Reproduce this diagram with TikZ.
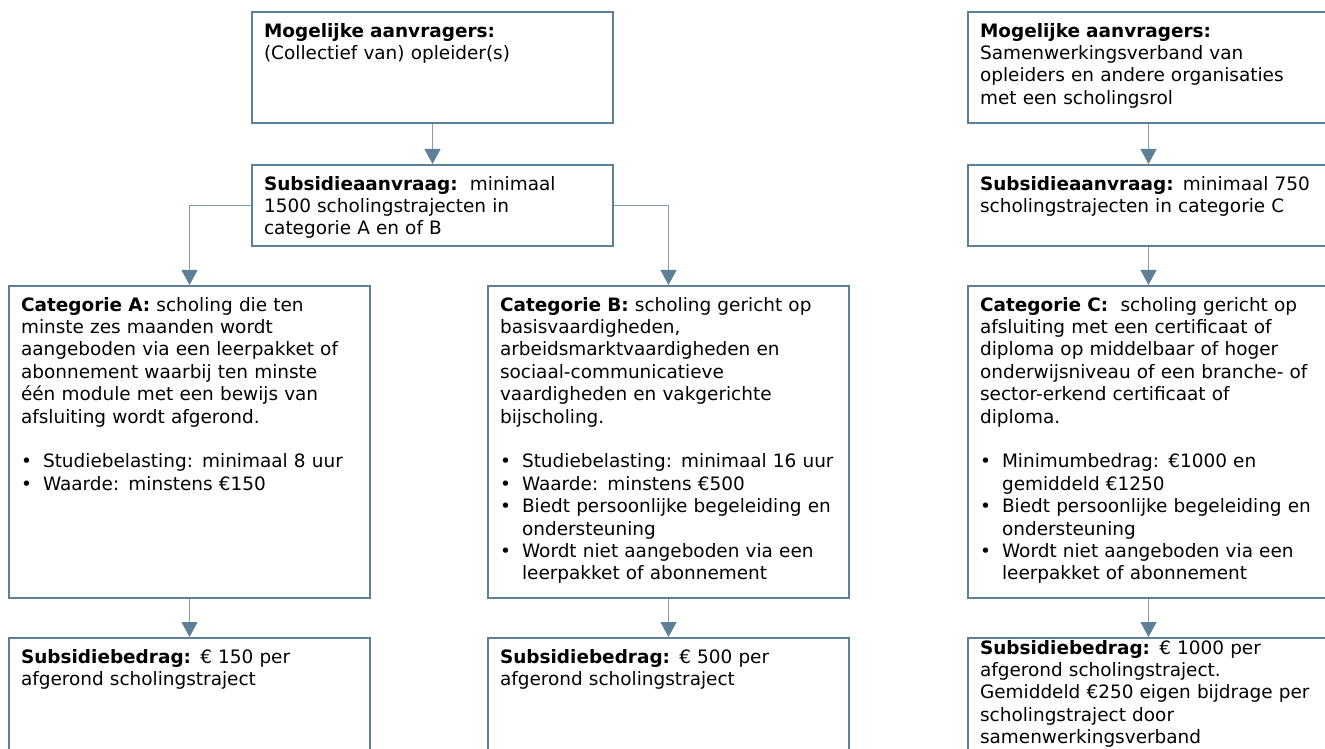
\documentclass[tikz,border=0pt]{standalone}
\usepackage{fontspec}
\setmainfont{DejaVu Sans}
\usetikzlibrary{arrows.meta}

\definecolor{boxblue}{HTML}{5E8096}
\definecolor{linkblue}{HTML}{819EB1}
\newcommand\bul{\makebox[0.44cm][l]{\textbullet}}
\newcommand\ind{\hspace*{0.44cm}}

\tikzset{
  infobox/.style={draw=boxblue, line width=1.2pt, fill=white, anchor=north west,
    align=left, text width=6.74cm, inner xsep=0.24cm, inner ysep=0pt,
    text height=0.5cm, font=\fontsize{10.5}{12.75}\selectfont},
  link/.style={draw=linkblue, line width=0.6pt,
    -{Triangle[width=0.32cm,length=0.3cm,color=boxblue]}}
}

\begin{document}
\begin{tikzpicture}[x=0.02cm,y=-0.02cm]
\useasboundingbox (0,0) rectangle (1325,749);
\clip (0,0) rectangle (1325,749);

% middle column
\node[infobox,text depth=1.72cm] (req1) at (251,11)
  {\textbf{Mogelijke aanvragers:}\\(Collectief van) opleider(s)};
\node[infobox,text depth=1.12cm] (aanvr1) at (251,164)
  {\textbf{Subsidieaanvraag:}\ \ minimaal\\1500 scholingstrajecten in\\categorie A en of B};

% category A and B
\node[infobox,text depth=5.74cm] (catA) at (8,285)
  {\textbf{Categorie A:} scholing die ten\\minste zes maanden wordt\\aangeboden via een leerpakket of\\abonnement waarbij ten minste\\één module met een bewijs van\\afsluiting wordt afgerond.\\[12.75pt]
   \bul Studiebelasting: minimaal 8 uur\\\bul Waarde: minstens €150};
\node[infobox,text depth=5.74cm] (catB) at (487,285)
  {\textbf{Categorie B:} scholing gericht op\\basisvaardigheden,\\arbeidsmarktvaardigheden en\\sociaal-communicatieve\\vaardigheden en vakgerichte\\bijscholing.\\[12.75pt]
   \bul Studiebelasting: minimaal 16 uur\\\bul Waarde: minstens €500\\\bul Biedt persoonlijke begeleiding en\\\ind ondersteuning\\\bul Wordt niet aangeboden via een\\\ind leerpakket of abonnement};
\node[infobox,text depth=2.16cm] (bedrA) at (8,637)
  {\textbf{Subsidiebedrag:} € 150 per\\afgerond scholingstraject};
\node[infobox,text depth=2.16cm] (bedrB) at (487,637)
  {\textbf{Subsidiebedrag:} € 500 per\\afgerond scholingstraject};

% right column
\node[infobox,text depth=1.72cm] (req2) at (967,11)
  {\textbf{Mogelijke aanvragers:}\\Samenwerkingsverband van\\opleiders en andere organisaties\\met een scholingsrol};
\node[infobox,text depth=1.12cm] (aanvr2) at (967,164)
  {\textbf{Subsidieaanvraag:} minimaal 750\\scholingstrajecten in categorie C};
\node[infobox,text depth=5.74cm] (catC) at (967,285)
  {\textbf{Categorie C:}\ \ scholing gericht op\\afsluiting met een certificaat of\\diploma op middelbaar of hoger\\onderwijsniveau of een branche- of\\sector-erkend certificaat of\\diploma.\\[12.75pt]
   \bul Minimumbedrag: €1000 en\\\ind gemiddeld €1250\\\bul Biedt persoonlijke begeleiding en\\\ind ondersteuning\\\bul Wordt niet aangeboden via een\\\ind leerpakket of abonnement};
\node[infobox,text height=0.32cm,text depth=2.34cm] (bedrC) at (967,637)
  {\textbf{Subsidiebedrag:} € 1000 per\\afgerond scholingstraject.\\Gemiddeld €250 eigen bijdrage per\\scholingstraject door\\samenwerkingsverband};

% connectors
\draw[link] (req1) -- (aanvr1);
\draw[link] (aanvr1.west) -| (catA);
\draw[link] (aanvr1.east) -| (catB);
\draw[link] (catA) -- (bedrA);
\draw[link] (catB) -- (bedrB);
\draw[link] (req2) -- (aanvr2);
\draw[link] (aanvr2) -- (catC);
\draw[link] (catC) -- (bedrC);
\end{tikzpicture}
\end{document}
